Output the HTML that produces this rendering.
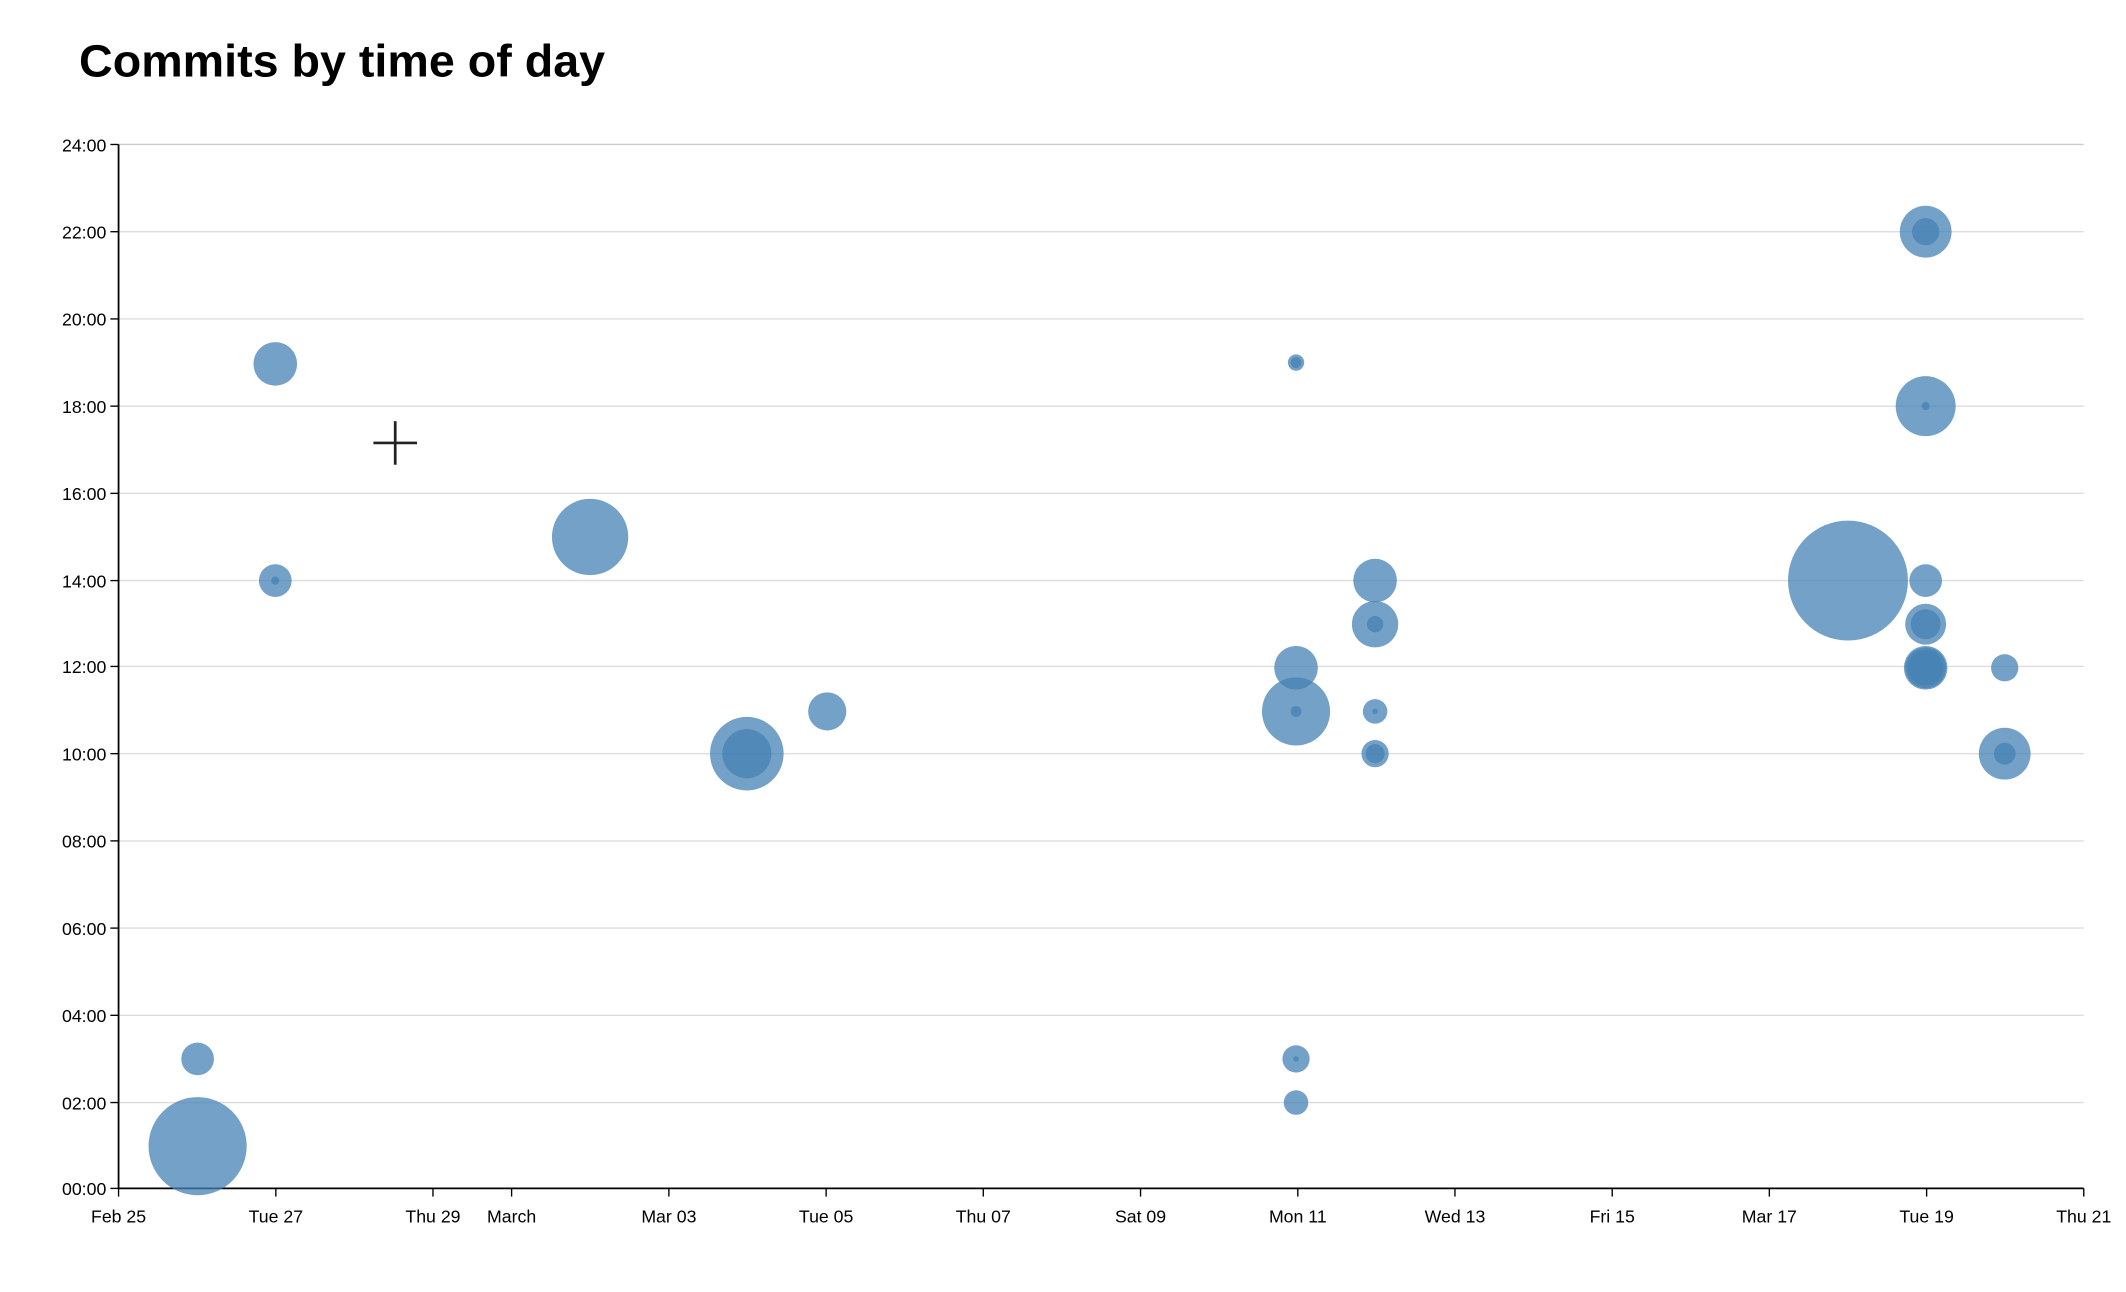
<!DOCTYPE html>
<html><head><meta charset="utf-8"><style>
html,body{margin:0;padding:0;background:#fff;}
svg{display:block;font-family:"Liberation Sans",Arial,sans-serif;}
</style></head><body>
<svg width="2126" height="1292" viewBox="0 0 1560 948" xmlns="http://www.w3.org/2000/svg">
<rect width="1560" height="948" fill="#fff"/>
<text x="58" y="56" font-size="33" font-weight="bold" textLength="386" lengthAdjust="spacingAndGlyphs">Commits by time of day</text>
<g stroke="#ddd" stroke-width="1">
<line x1="87" x2="1529" y1="106" y2="106" stroke="#ccc"/>
<line x1="87" x2="1529" y1="170" y2="170"/>
<line x1="87" x2="1529" y1="234" y2="234"/>
<line x1="87" x2="1529" y1="298" y2="298"/>
<line x1="87" x2="1529" y1="362" y2="362"/>
<line x1="87" x2="1529" y1="426" y2="426"/>
<line x1="87" x2="1529" y1="489" y2="489"/>
<line x1="87" x2="1529" y1="553" y2="553"/>
<line x1="87" x2="1529" y1="617" y2="617"/>
<line x1="87" x2="1529" y1="681" y2="681"/>
<line x1="87" x2="1529" y1="745" y2="745"/>
<line x1="87" x2="1529" y1="809" y2="809"/>
</g>
<g stroke="#000" stroke-width="1.3" fill="none">
<line x1="87" y1="106" x2="87" y2="872"/>
<line x1="87" y1="872" x2="1529" y2="872"/>
</g>
<g stroke="#000" stroke-width="1">
<line x1="81" x2="87" y1="106" y2="106"/><line x1="81" x2="87" y1="170" y2="170"/><line x1="81" x2="87" y1="234" y2="234"/><line x1="81" x2="87" y1="298" y2="298"/><line x1="81" x2="87" y1="362" y2="362"/><line x1="81" x2="87" y1="426" y2="426"/><line x1="81" x2="87" y1="489" y2="489"/><line x1="81" x2="87" y1="553" y2="553"/><line x1="81" x2="87" y1="617" y2="617"/><line x1="81" x2="87" y1="681" y2="681"/><line x1="81" x2="87" y1="745" y2="745"/><line x1="81" x2="87" y1="809" y2="809"/><line x1="81" x2="87" y1="872" y2="872"/>
<line x1="87" x2="87" y1="872" y2="878"/><line x1="202.4" x2="202.4" y1="872" y2="878"/><line x1="317.7" x2="317.7" y1="872" y2="878"/><line x1="375.4" x2="375.4" y1="872" y2="878"/><line x1="490.8" x2="490.8" y1="872" y2="878"/><line x1="606.2" x2="606.2" y1="872" y2="878"/><line x1="721.5" x2="721.5" y1="872" y2="878"/><line x1="836.9" x2="836.9" y1="872" y2="878"/><line x1="952.3" x2="952.3" y1="872" y2="878"/><line x1="1067.6" x2="1067.6" y1="872" y2="878"/><line x1="1183" x2="1183" y1="872" y2="878"/><line x1="1298.3" x2="1298.3" y1="872" y2="878"/><line x1="1413.7" x2="1413.7" y1="872" y2="878"/><line x1="1529" x2="1529" y1="872" y2="878"/>
</g>
<g font-size="13" text-anchor="end" fill="#000">
<text x="78" y="111">24:00</text><text x="78" y="175">22:00</text><text x="78" y="239">20:00</text><text x="78" y="303">18:00</text><text x="78" y="367">16:00</text><text x="78" y="431">14:00</text><text x="78" y="494">12:00</text><text x="78" y="558">10:00</text><text x="78" y="622">08:00</text><text x="78" y="686">06:00</text><text x="78" y="750">04:00</text><text x="78" y="814">02:00</text><text x="78" y="877">00:00</text>
</g>
<g font-size="13" text-anchor="middle" fill="#000">
<text x="87" y="897">Feb 25</text><text x="202.4" y="897">Tue 27</text><text x="317.7" y="897">Thu 29</text><text x="375.4" y="897">March</text><text x="490.8" y="897">Mar 03</text><text x="606.2" y="897">Tue 05</text><text x="721.5" y="897">Thu 07</text><text x="836.9" y="897">Sat 09</text><text x="952.3" y="897">Mon 11</text><text x="1067.6" y="897">Wed 13</text><text x="1183" y="897">Fri 15</text><text x="1298.3" y="897">Mar 17</text><text x="1413.7" y="897">Tue 19</text><text x="1529" y="897">Thu 21</text>
</g>
<g fill="rgb(70,130,180)" fill-opacity="0.75">
<circle cx="145" cy="841" r="36"/>
<circle cx="145" cy="777" r="12"/>
<circle cx="202" cy="267" r="16"/>
<circle cx="202" cy="426" r="12"/><circle cx="202" cy="426" r="3"/>
<circle cx="433" cy="394" r="28"/>
<circle cx="548" cy="553" r="27"/><circle cx="548" cy="553" r="18"/>
<circle cx="607" cy="522" r="14"/>
<circle cx="951" cy="266" r="6"/><circle cx="951" cy="266" r="4"/>
<circle cx="951" cy="490" r="16"/>
<circle cx="951" cy="522" r="25"/><circle cx="951" cy="522" r="4"/>
<circle cx="951" cy="777" r="10"/><circle cx="951" cy="777" r="2"/>
<circle cx="951" cy="809" r="9"/>
<circle cx="1009" cy="426" r="16"/>
<circle cx="1009" cy="458" r="17"/><circle cx="1009" cy="458" r="6"/>
<circle cx="1009" cy="522" r="9"/><circle cx="1009" cy="522" r="2"/>
<circle cx="1009" cy="553" r="10"/><circle cx="1009" cy="553" r="7"/>
<circle cx="1356" cy="426" r="44"/>
<circle cx="1413" cy="170" r="19"/><circle cx="1413" cy="170" r="10"/>
<circle cx="1413" cy="298" r="22"/><circle cx="1413" cy="298" r="3"/>
<circle cx="1413" cy="426" r="12"/>
<circle cx="1413" cy="458" r="15"/><circle cx="1413" cy="458" r="11"/>
<circle cx="1413" cy="490" r="16"/><circle cx="1413" cy="490" r="15"/><circle cx="1413" cy="490" r="13"/>
<circle cx="1471" cy="490" r="10"/>
<circle cx="1471" cy="553" r="19"/><circle cx="1471" cy="553" r="8"/>
</g>
<g stroke="#222" stroke-width="2">
<line x1="274" x2="306" y1="325" y2="325"/>
<line x1="290" x2="290" y1="309" y2="341"/>
</g>
</svg>
</body></html>
